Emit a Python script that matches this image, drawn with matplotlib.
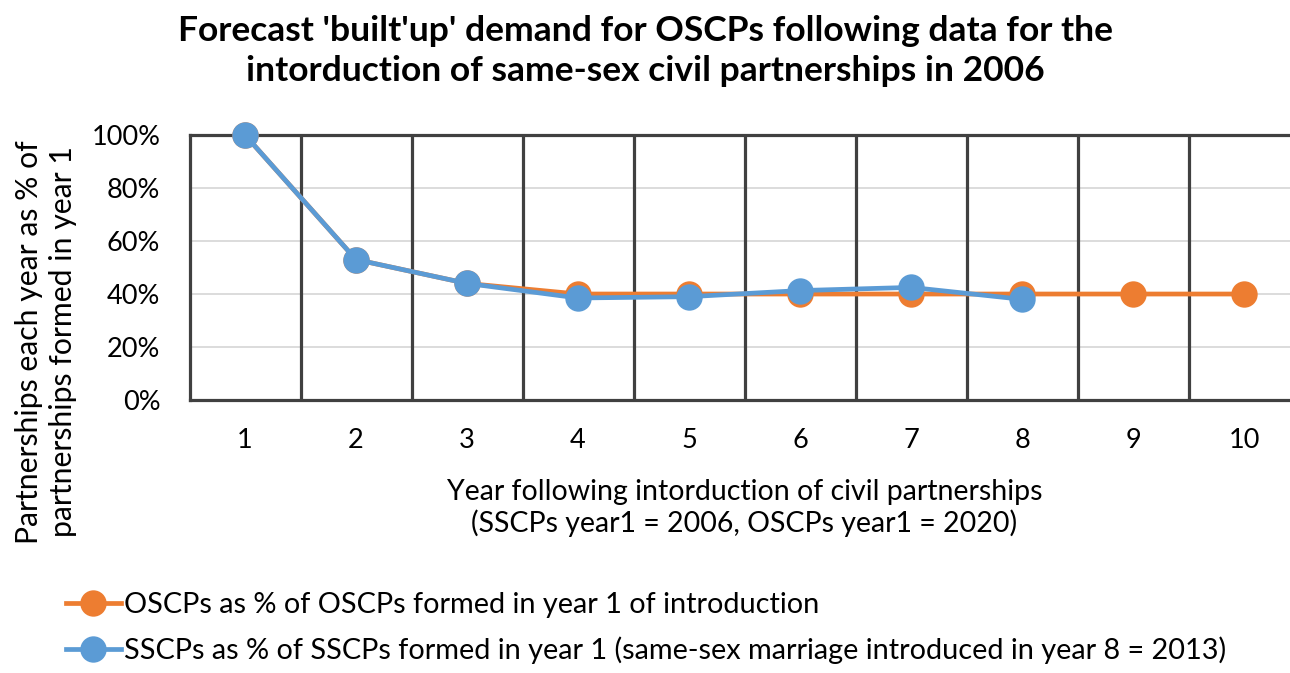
import matplotlib
matplotlib.use("Agg")
import matplotlib.pyplot as plt
from matplotlib.ticker import PercentFormatter

years = [1, 2, 3, 4, 5, 6, 7, 8, 9, 10]
oscp = [100, 53, 44, 40, 40, 40, 40, 40, 40, 40]
sscp_years = [1, 2, 3, 4, 5, 6, 7, 8]
sscp = [100, 53, 44, 38.5, 39, 41.3, 42.5, 38]
yticks = [0, 20, 40, 60, 80, 100]

title = "Forecast 'built'up' demand for OSCPs following data for the\nintorduction of same-sex civil partnerships in 2006"
xlabel = "Year following intorduction of civil partnerships\n(SSCPs year1 = 2006, OSCPs year1 = 2020)"
ylabel = "Partnerships each year as % of\npartnerships formed in year 1"
leg_oscp = "OSCPs as % of OSCPs formed in year 1 of introduction"
leg_sscp = "SSCPs as % of SSCPs formed in year 1 (same-sex marriage introduced in year 8 = 2013)"

plt.rcParams['font.family'] = ['Lato', 'DejaVu Sans']
ORANGE = '#ED7D31'
BLUE = '#5B9BD5'
DARK = '#404040'

fig = plt.figure(figsize=(12.9, 6.73), dpi=100)
ax = fig.add_axes([0.1469, 0.4056, 0.8605, 0.3938])

ax.set_xlim(0.5, 10.5)
ax.set_ylim(0, 100)
ax.set_yticks(yticks)
ax.yaxis.set_major_formatter(PercentFormatter(decimals=0))
ax.set_xticks(years)
for y in yticks[1:-1]:
    ax.axhline(y, color='#d9d9d9', lw=1.3, zorder=1)
for b in range(1, 11):
    ax.axvline(b + 0.5, color=DARK, lw=2.3, zorder=1.5)
for s in ['top', 'bottom', 'left']:
    ax.spines[s].set_color(DARK)
    ax.spines[s].set_linewidth(2.3)
ax.spines['right'].set_visible(False)
ax.tick_params(length=0, labelsize=19.5, colors='black')
ax.tick_params(axis='y', pad=21)
ax.tick_params(axis='x', pad=20)

l1, = ax.plot(years, oscp, color=ORANGE, lw=3.4, marker='o', ms=19, mec='none', zorder=3, label=leg_oscp, clip_on=False)
l2, = ax.plot(sscp_years, sscp, color=BLUE, lw=3.4, marker='o', ms=19, mec='none', zorder=4, label=leg_sscp, clip_on=False)

ax.set_xlabel(xlabel, fontsize=20.5, labelpad=19, linespacing=1.2)
ax.set_ylabel(ylabel, fontsize=21.7, linespacing=1.25)
ax.yaxis.set_label_coords(-0.1014, 0.219)

fig.text(0.5, 0.978, title, ha='center', va='top', fontsize=25.5, fontweight='bold', linespacing=1.32)

fig.legend(handles=[l1, l2], loc='center left', bbox_to_anchor=(0.051, 0.0665), frameon=False,
           fontsize=20.8, handlelength=1.9, handletextpad=0.1, labelspacing=0.62, borderaxespad=0,
           borderpad=0, markerscale=1.0)

fig.savefig('out.png', dpi=100)
